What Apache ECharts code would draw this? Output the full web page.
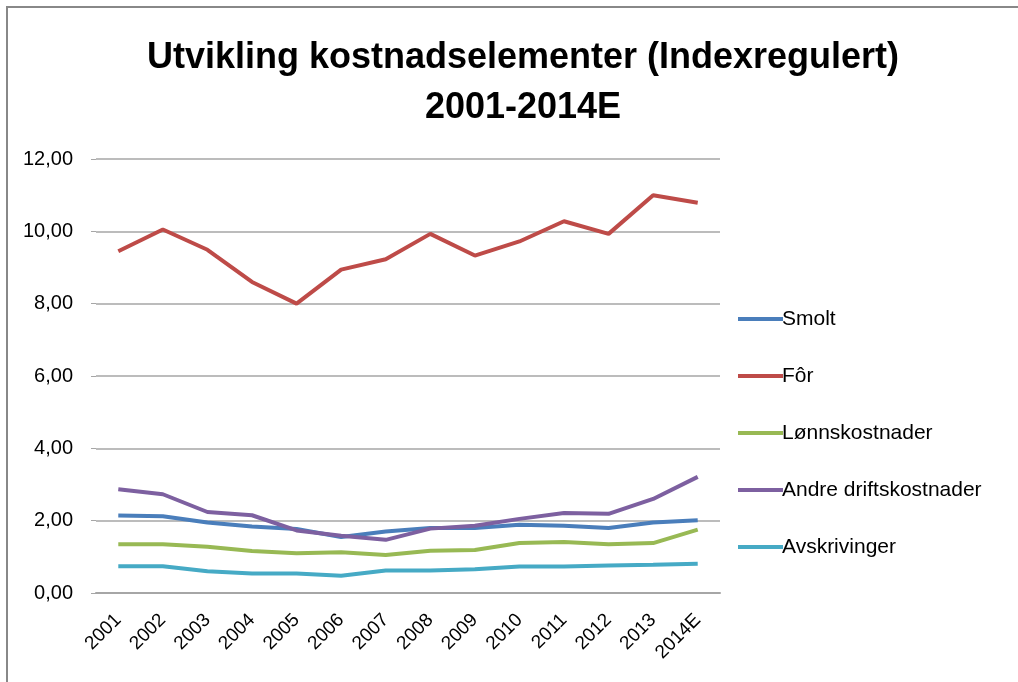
<!DOCTYPE html>
<html>
<head>
<meta charset="utf-8">
<script src="https://cdn.jsdelivr.net/npm/echarts@6/dist/echarts.min.js"></script>
<style>
  html, body { margin: 0; padding: 0; background: #fff; }
  #chart { width: 1018px; height: 682px; }
</style>
</head>
<body>
<div id="chart"></div>
<script>
// kategorier (år)
var years = ['2001', '2002', '2003', '2004', '2005', '2006', '2007', '2008', '2009', '2010', '2011', '2012', '2013', '2014E'];

// seriedata, lest av bildet
var smolt = [2.14, 2.12, 1.95, 1.84, 1.77, 1.55, 1.70, 1.80, 1.80, 1.89, 1.86, 1.80, 1.95, 2.01];
var forData = [9.45, 10.05, 9.49, 8.60, 8.00, 8.94, 9.23, 9.93, 9.33, 9.72, 10.28, 9.93, 11.00, 10.79];
var lonn = [1.35, 1.35, 1.28, 1.16, 1.10, 1.13, 1.05, 1.17, 1.19, 1.38, 1.41, 1.35, 1.38, 1.75];
var andre = [2.87, 2.73, 2.24, 2.15, 1.73, 1.58, 1.47, 1.78, 1.86, 2.05, 2.21, 2.19, 2.60, 3.21];
var avskr = [0.74, 0.74, 0.60, 0.54, 0.54, 0.48, 0.62, 0.62, 0.66, 0.73, 0.73, 0.76, 0.78, 0.81];

var seriesNames = ['Smolt', 'Fôr', 'Lønnskostnader', 'Andre driftskostnader', 'Avskrivinger'];
var seriesData = [smolt, forData, lonn, andre, avskr];
var colors = ['#4A7EBB', '#BE4B48', '#98B954', '#7D60A0', '#46AAC5'];

var FONT = '"Liberation Sans", Arial, sans-serif';

var chart = echarts.init(document.getElementById('chart'));

var option = {
    animation: false,
    backgroundColor: '#fff',
    color: colors,
    textStyle: { fontFamily: FONT },
    title: {
        text: 'Utvikling kostnadselementer (Indexregulert)\n2001-2014E',
        left: 518,
        top: 28,
        textAlign: 'center',
        textStyle: {
            fontFamily: FONT,
            fontSize: 36,
            fontWeight: 'bold',
            color: '#000',
            lineHeight: 50
        }
    },
    graphic: [{
        // ytre ramme
        type: 'rect',
        shape: { x: 7, y: 7, width: 1100, height: 800 },
        style: { fill: 'none', stroke: '#888', lineWidth: 2 },
        silent: true
    }],
    legend: {
        orient: 'vertical',
        left: 733,
        top: 303,
        itemWidth: 45,
        itemHeight: 4,
        itemGap: 35,
        icon: 'rect',
        data: seriesNames,
        textStyle: {
            fontFamily: FONT,
            fontSize: 21,
            color: '#000',
            lineHeight: 22,
            padding: [0, 0, 0, -6]
        }
    },
    grid: {
        left: 96,
        right: 298,
        top: 159,
        bottom: 89,
        containLabel: false
    },
    xAxis: {
        type: 'category',
        data: years,
        boundaryGap: true,
        axisLine: { show: true, lineStyle: { color: '#a6a6a6', width: 2 } },
        axisTick: { show: false },
        axisLabel: {
            rotate: 45,
            margin: 24,
            fontFamily: FONT,
            fontSize: 19,
            color: '#000'
        }
    },
    yAxis: {
        type: 'value',
        min: 0,
        max: 12,
        interval: 2,
        axisLine: { show: false },
        axisTick: { show: true, length: 5, lineStyle: { color: '#a6a6a6' } },
        axisLabel: {
            margin: 23,
            fontFamily: FONT,
            fontSize: 20,
            color: '#000',
            formatter: function (v) { return v.toFixed(2).replace('.', ','); }
        },
        splitLine: { lineStyle: { color: '#a6a6a6', width: 1.5 } }
    },
    series: seriesNames.map(function (name, i) {
        return {
            name: name,
            type: 'line',
            data: seriesData[i],
            showSymbol: false,
            symbol: 'none',
            lineStyle: { width: 4, color: colors[i] },
            itemStyle: { color: colors[i] }
        };
    })
};

chart.setOption(option);
</script>
</body>
</html>
